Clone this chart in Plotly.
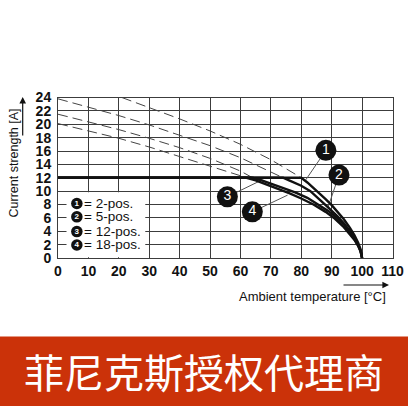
import plotly.graph_objects as go

# ---------------- data ----------------
x_ticks = [0, 10, 20, 30, 40, 50, 60, 70, 80, 90, 100, 110]
y_ticks = [0, 2, 4, 6, 8, 10, 12, 14, 16, 18, 20, 22, 24]

# solid derating curves (ambient temperature [°C] -> current [A])
curve1_T = [0, 80, 82, 84, 86, 88, 90, 92, 94, 96, 97.5, 98.7, 99.5, 100]
curve1_I = [12, 12, 11.3, 10.5, 9.7, 8.8, 7.9, 6.9, 5.8, 4.5, 3.4, 2.3, 1.3, 0]

curve2_T = [0, 74, 76, 78, 80, 83, 86, 89, 92, 94, 96, 97.5, 98.7, 99.5, 100]
curve2_I = [12, 12, 11.6, 11.2, 10.8, 10.0, 8.8, 7.5, 6.2, 5.2, 4.0, 3.0, 2.0, 1.1, 0]

curve3_T = [0, 64, 67, 70, 74, 78, 82, 86, 89, 92, 94, 96, 97.5, 98.7, 99.5, 100]
curve3_I = [12, 12, 11.6, 11.1, 10.5, 9.8, 9.0, 7.9, 7.0, 5.9, 5.0, 3.9, 2.9, 1.9, 1.0, 0]

curve4_T = [0, 62, 65, 68, 72, 76, 80, 84, 88, 91, 94, 96, 97.5, 98.7, 99.5, 100]
curve4_I = [12, 12, 11.6, 11.1, 10.4, 9.7, 8.9, 8.0, 6.9, 5.9, 4.6, 3.6, 2.7, 1.8, 1.0, 0]

# dashed continuations (without the 12 A limit)
dash1_T = [21, 30, 40, 50, 60, 70, 80]
dash1_I = [24, 22.5, 20.8, 19.0, 17.0, 14.7, 12]
dash2_T = [0, 10, 20, 30, 40, 50, 60, 70, 74]
dash2_I = [23.8, 22.6, 21.3, 19.9, 18.4, 16.8, 15.0, 12.9, 12]
dash3_T = [0, 10, 20, 30, 40, 50, 60, 64]
dash3_I = [21.5, 20.4, 19.2, 17.9, 16.5, 14.9, 13.0, 12]
dash4_T = [0, 10, 20, 30, 40, 50, 60, 62]
dash4_I = [20.1, 19.0, 17.9, 16.6, 15.2, 13.8, 12.3, 12]

legend_nums = ["1", "2", "3", "4"]
legend_texts = ["= 2-pos.", "= 5-pos.", "= 12-pos.", "= 18-pos."]

x_title = "Ambient temperature [°C]"
y_title = "Current strength [A]"
banner_text = "菲尼克斯授权代理商"

# ---------------- figure ----------------
W = H = 408
FONT = "Liberation Sans, Arial, sans-serif"
GRID = "#3c3c3c"

fig = go.Figure()

for T, I in [(dash1_T, dash1_I), (dash2_T, dash2_I), (dash3_T, dash3_I), (dash4_T, dash4_I)]:
    fig.add_trace(go.Scatter(x=T, y=I, mode="lines",
                             line=dict(color="#444444", width=1, dash="10px,5px"),
                             hoverinfo="skip", showlegend=False))

for T, I in [(curve4_T, curve4_I), (curve3_T, curve3_I), (curve2_T, curve2_I), (curve1_T, curve1_I)]:
    fig.add_trace(go.Scatter(x=T, y=I, mode="lines",
                             line=dict(color="#111111", width=2.4),
                             hoverinfo="skip", showlegend=False))

# leader lines (drawn below the bubbles)
leaders = [((88.1, 16.1), (81.5, 11.7)),
           ((92.4, 12.4), (88.7, 7.45)),
           ((55.7, 9.15), (67.2, 11.7)),
           ((63.9, 6.9), (75.5, 9.4))]
for (x0, y0), (x1, y1) in leaders:
    fig.add_shape(type="line", x0=x0, y0=y0, x1=x1, y1=y1, xref="x", yref="y",
                  line=dict(color="#555555", width=1), layer="between")

# curve label bubbles
bub_x = [88.1, 92.4, 55.7, 63.9]
bub_y = [16.1, 12.4, 9.15, 6.9]
fig.add_trace(go.Scatter(x=bub_x, y=bub_y, mode="markers+text", text=legend_nums,
                         textposition="middle center",
                         textfont=dict(color="white", size=14, family=FONT),
                         marker=dict(size=21, color="#111111", line=dict(width=0)),
                         hoverinfo="skip", showlegend=False, cliponaxis=False))

# legend box
fig.add_shape(type="rect", x0=2.8, x1=28.7, y0=0.12, y1=9.82, xref="x", yref="y",
              fillcolor="white", line=dict(width=0), layer="between")
leg_y = [8.15, 6.15, 3.95, 1.95]
fig.add_trace(go.Scatter(x=[6.2] * 4, y=leg_y, mode="markers+text", text=legend_nums,
                         textposition="middle center",
                         textfont=dict(color="white", size=8, family=FONT, weight="bold"),
                         marker=dict(size=11.5, color="#111111", line=dict(width=0)),
                         hoverinfo="skip", showlegend=False))
for yy, t in zip(leg_y, legend_texts):
    fig.add_annotation(x=7.9, y=yy, xref="x", yref="y", text=t, showarrow=False,
                       xanchor="left", yanchor="middle",
                       font=dict(family=FONT, size=13.5, color="#111111"))

# axis titles and arrows
fig.add_annotation(x=13.5 / W, y=1 - 163 / H, xref="paper", yref="paper", text=y_title,
                   textangle=-90, showarrow=False, xanchor="center", yanchor="middle",
                   font=dict(family=FONT, size=12.5, color="#111111"))
fig.add_annotation(x=388 / W, y=1 - 296 / H, xref="paper", yref="paper", text=x_title,
                   showarrow=False, xanchor="right", yanchor="middle",
                   font=dict(family=FONT, size=13, color="#111111"))
fig.add_annotation(x=22.7 / W, y=1 - 97 / H, xref="paper", yref="paper", text="",
                   showarrow=True, ax=0, ay=40, arrowhead=2, arrowsize=1.1,
                   arrowwidth=1.2, arrowcolor="#111111", standoff=0)
fig.add_annotation(x=389 / W, y=1 - 285 / H, xref="paper", yref="paper", text="",
                   showarrow=True, ax=-47, ay=0, arrowhead=2, arrowsize=1.1,
                   arrowwidth=1.2, arrowcolor="#111111", standoff=0)

# red banner
fig.add_shape(type="rect", x0=0, x1=1, y0=2 / H, y1=1 - 336.5 / H, xref="paper", yref="paper",
              fillcolor="#CB3209", line=dict(width=0), layer="above")
fig.add_annotation(x=0.5, y=1 - 371 / H, xref="paper", yref="paper", text=banner_text,
                   showarrow=False, xanchor="center", yanchor="middle",
                   font=dict(family="Noto Sans CJK SC", size=40, color="white"))

tickfont = dict(family=FONT, size=14, color="#111111", weight="bold")
fig.update_layout(
    width=W, height=H, margin=dict(l=0, r=0, t=0, b=0),
    paper_bgcolor="white", plot_bgcolor="white", showlegend=False,
    xaxis=dict(domain=[58 / W, 392.5 / W], range=[0, 110], tickvals=x_ticks,
               showgrid=True, gridcolor=GRID, gridwidth=1, zeroline=False,
               showline=True, linecolor=GRID, linewidth=1, mirror=True,
               ticks="", tickfont=tickfont, fixedrange=True, automargin=False),
    yaxis=dict(domain=[1 - 258 / H, 1 - 97.5 / H], range=[0, 24], tickvals=y_ticks,
               showgrid=True, gridcolor=GRID, gridwidth=1, zeroline=False,
               showline=True, linecolor=GRID, linewidth=1, mirror=True,
               ticks="", tickfont=tickfont, ticklabelstandoff=3, fixedrange=True,
               automargin=False),
)

fig.write_html("out.html", config={"displayModeBar": False},
               post_script="document.body.style.margin='0';document.body.style.overflow='hidden';")
